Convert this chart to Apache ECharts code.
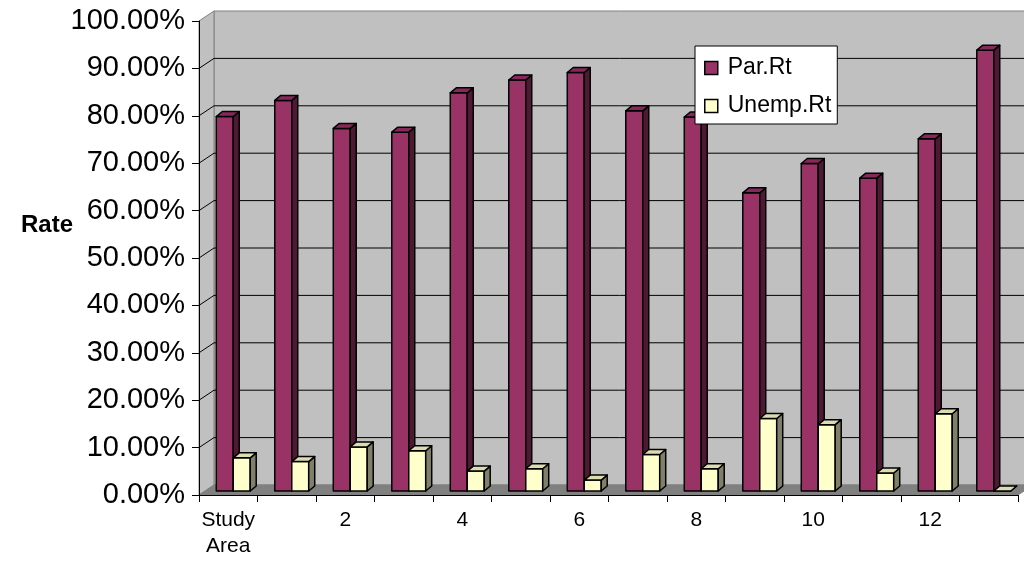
<!DOCTYPE html>
<html>
<head>
<meta charset="utf-8">
<title>Participation and Unemployment Rate</title>
<script src="https://cdn.jsdelivr.net/npm/echarts@6/dist/echarts.min.js"></script>
<style>
  html, body { margin: 0; padding: 0; background: #ffffff; }
  #chart { width: 1024px; height: 561px; }
</style>
</head>
<body>
<div id="chart"></div>
<script>
// Areas along the category axis
const CATEGORIES = ['Study Area', '1', '2', '3', '4', '5', '6', '7', '8', '9', '10', '11', '12', '13'];

// Labour force participation rate per area
const PAR_RATE = [0.790, 0.824, 0.765, 0.757, 0.840, 0.867, 0.883, 0.802, 0.789, 0.629, 0.691, 0.660, 0.743, 0.930];

// Unemployment rate per area
const UNEMP_RATE = [0.070, 0.062, 0.093, 0.085, 0.042, 0.047, 0.023, 0.077, 0.047, 0.153, 0.140, 0.038, 0.163, 0.000];

// Value axis ticks
const Y_TICKS = [0, 0.1, 0.2, 0.3, 0.4, 0.5, 0.6, 0.7, 0.8, 0.9, 1.0];

// Oblique projection used for the pseudo-3D look
const WALL_DEPTH = [15, -10];   // front plane -> back wall
const BAR_PLANE = [5, -4];      // front plane -> front face of the bars
const BAR_DEPTH = [6, -5];      // thickness of each column
const FONT = '"Liberation Sans", Arial, sans-serif';

function wallsItem(params, api) {
  const cs = params.coordSys;
  const dx = WALL_DEPTH[0], dy = WALL_DEPTH[1];
  const x0 = cs.x, x1 = cs.x + cs.width;
  const yTop = cs.y, yBot = cs.y + cs.height;
  const children = [];
  // back wall
  children.push({
    type: 'polygon',
    shape: { points: [[x0 + dx, yTop + dy], [x1 + dx, yTop + dy], [x1 + dx, yBot + dy], [x0 + dx, yBot + dy]] },
    style: { fill: '#C0C0C0', stroke: '#808080', lineWidth: 1 }
  });
  // side wall
  children.push({
    type: 'polygon',
    shape: { points: [[x0, yTop], [x0 + dx, yTop + dy], [x0 + dx, yBot + dy], [x0, yBot]] },
    style: { fill: '#C0C0C0', stroke: '#808080', lineWidth: 1 }
  });
  // floor
  children.push({
    type: 'polygon',
    shape: { points: [[x0, yBot], [x1, yBot], [x1 + dx, yBot + dy], [x0 + dx, yBot + dy]] },
    style: { fill: '#808080', stroke: '#808080', lineWidth: 1 }
  });
  // grid lines on the back wall and the side wall
  Y_TICKS.forEach(function (v) {
    if (v <= 0 || v >= 1) return;
    const y = api.coord([0, v])[1];
    children.push({
      type: 'line',
      shape: { x1: x0 + dx, y1: y + dy, x2: x1 + dx, y2: y + dy },
      style: { stroke: '#000000', lineWidth: 1 }
    });
    children.push({
      type: 'line',
      shape: { x1: x0, y1: y, x2: x0 + dx, y2: y + dy },
      style: { stroke: '#000000', lineWidth: 1 }
    });
  });
  return { type: 'group', children: children };
}

function columnRenderer(slot, front, side, top) {
  return function (params, api) {
    const i = api.value(0);
    const v = api.value(1);
    const base = api.coord([i, 0]);
    const peak = api.coord([i, v]);
    const band = api.size([1, 0])[0];
    const w = band * 0.29;
    const xl = base[0] + BAR_PLANE[0] + slot * w;
    const xr = xl + w;
    const yb = base[1] + BAR_PLANE[1];
    const yt = peak[1] + BAR_PLANE[1];
    const dx = BAR_DEPTH[0], dy = BAR_DEPTH[1];
    const line = { stroke: '#000000', lineWidth: 1.5, lineJoin: 'round' };
    return {
      type: 'group',
      children: [
        { type: 'polygon', shape: { points: [[xl, yb], [xr, yb], [xr, yt], [xl, yt]] },
          style: Object.assign({ fill: front }, line) },
        { type: 'polygon', shape: { points: [[xr, yb], [xr + dx, yb + dy], [xr + dx, yt + dy], [xr, yt]] },
          style: Object.assign({ fill: side }, line) },
        { type: 'polygon', shape: { points: [[xl, yt], [xr, yt], [xr + dx, yt + dy], [xl + dx, yt + dy]] },
          style: Object.assign({ fill: top }, line) }
      ]
    };
  };
}

const chart = echarts.init(document.getElementById('chart'));

chart.setOption({
  backgroundColor: '#ffffff',
  animation: false,
  // value axis title
  title: {
    text: 'Rate',
    left: 21,
    top: 212,
    padding: 0,
    textStyle: { fontFamily: FONT, fontSize: 24, fontWeight: 'bold', color: '#000000', lineHeight: 26 }
  },
  grid: { left: 199, right: 6, top: 21, bottom: 66, containLabel: false },
  legend: {
    orient: 'vertical',
    left: 695,
    top: 46,
    z: 10,
    backgroundColor: '#ffffff',
    borderColor: '#000000',
    borderWidth: 1,
    padding: [10, 6, 6, 9],
    itemGap: 14,
    itemWidth: 13,
    itemHeight: 13,
    icon: 'rect',
    textStyle: { fontFamily: FONT, fontSize: 23, lineHeight: 24, color: '#000000', padding: [0, 0, 0, 5] },
    data: [
      { name: 'Par.Rt', itemStyle: { color: '#993366', borderColor: '#000000', borderWidth: 1.5 } },
      { name: 'Unemp.Rt', itemStyle: { color: '#FFFFCC', borderColor: '#000000', borderWidth: 1.5 } }
    ]
  },
  xAxis: {
    type: 'category',
    data: CATEGORIES,
    boundaryGap: true,
    z: 5,
    axisLine: { show: true, lineStyle: { color: '#000000', width: 1 } },
    axisTick: { show: true, interval: 0, length: 7, lineStyle: { color: '#000000' } },
    axisLabel: {
      interval: 1,
      margin: 12,
      fontFamily: FONT,
      fontSize: 21,
      lineHeight: 26,
      color: '#000000',
      formatter: function (s) { return s.replace(' ', '\n'); }
    },
    splitLine: { show: false }
  },
  yAxis: {
    type: 'value',
    min: 0,
    max: 1,
    interval: 0.1,
    z: 5,
    axisLine: { show: true, lineStyle: { color: '#000000', width: 1 } },
    axisTick: { show: true, length: 7, lineStyle: { color: '#000000' } },
    axisLabel: {
      margin: 14,
      fontFamily: FONT,
      fontSize: 29,
      color: '#000000',
      formatter: function (v) { return (v * 100).toFixed(2) + '%'; }
    },
    splitLine: { show: false }
  },
  series: [
    {
      type: 'custom',
      name: 'walls',
      silent: true,
      z: 0,
      renderItem: wallsItem,
      data: [[0, 0]],
      encode: { x: 0, y: 1 }
    },
    {
      type: 'custom',
      name: 'Par.Rt',
      z: 2,
      itemStyle: { color: '#993366', borderColor: '#000000' },
      renderItem: columnRenderer(-1, '#993366', '#4D1933', '#86295A'),
      data: PAR_RATE.map(function (v, i) { return [i, v]; }),
      encode: { x: 0, y: 1 }
    },
    {
      type: 'custom',
      name: 'Unemp.Rt',
      z: 3,
      itemStyle: { color: '#FFFFCC', borderColor: '#000000' },
      renderItem: columnRenderer(0, '#FFFFCC', '#80806A', '#DCDCB0'),
      data: UNEMP_RATE.map(function (v, i) { return [i, v]; }),
      encode: { x: 0, y: 1 }
    }
  ]
});
</script>
</body>
</html>
